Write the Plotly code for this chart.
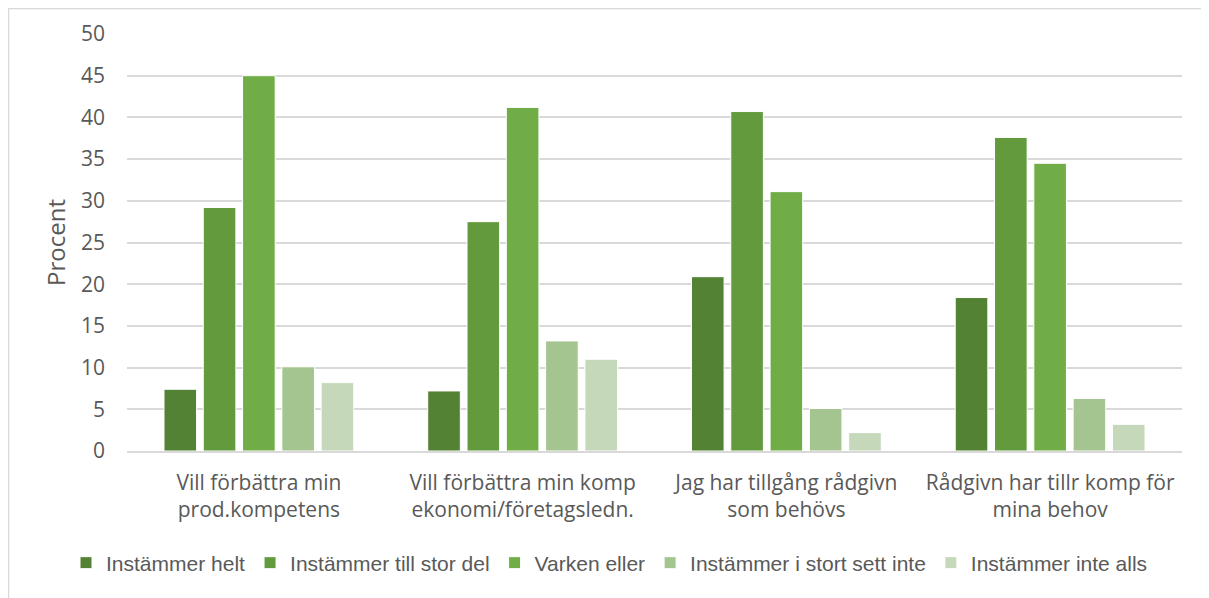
import plotly.graph_objects as go

categories = [
    "Vill förbättra min<br>prod.kompetens",
    "Vill förbättra min komp<br>ekonomi/företagsledn.",
    "Jag har tillgång rådgivn<br>som behövs",
    "Rådgivn har tillr komp för<br>mina behov",
]
series_names = [
    "Instämmer helt",
    "Instämmer till stor del",
    "Varken eller",
    "Instämmer i stort sett inte",
    "Instämmer inte alls",
]
instammer_helt = [7.4, 7.2, 20.9, 18.4]
instammer_stor_del = [29.2, 27.5, 40.7, 37.6]
varken_eller = [45.0, 41.2, 31.1, 34.5]
stort_sett_inte = [10.1, 13.2, 5.1, 6.3]
inte_alls = [8.2, 11.0, 2.2, 3.2]
colors = ["#548235", "#639A3E", "#70AD47", "#A5C590", "#C5D8BA"]
y_ticks = [0, 5, 10, 15, 20, 25, 30, 35, 40, 45, 50]

series_values = [instammer_helt, instammer_stor_del, varken_eller, stort_sett_inte, inte_alls]

# page has an 8px body margin, so the figure itself is slightly smaller
W, H = 1201, 590
ml, mr, mt, mb = 119, 27, 26, 147

fig = go.Figure()
for name, vals, col in zip(series_names, series_values, colors):
    fig.add_trace(go.Bar(
        x=categories, y=vals, name=name,
        marker=dict(color=col, line=dict(color="#FFFFFF", width=1)),
    ))

font_family = "Open Sans, Liberation Sans, Arial, sans-serif"
legend_family = "Liberation Sans, Arial, sans-serif"
text_color = "#595959"

pw = W - ml - mr
ph = H - mt - mb

fig.update_layout(
    width=W, height=H,
    margin=dict(l=ml, r=mr, t=mt, b=mb, pad=0, autoexpand=False),
    paper_bgcolor="#FFFFFF", plot_bgcolor="#FFFFFF",
    barmode="group", bargap=0.255, bargroupgap=0.17,
    font=dict(family=font_family, size=21, color=text_color),
    showlegend=True,
    legend=dict(
        orientation="h", x=(58 - ml) / pw, xanchor="left", y=-0.2686, yanchor="middle",
        font=dict(family=legend_family, size=21, color=text_color), itemwidth=30,
        traceorder="normal",
    ),
    xaxis=dict(
        showgrid=False, showline=True, linecolor="#D9D9D9", linewidth=1.5,
        ticks="", tickfont=dict(size=21, color=text_color), ticklabelstandoff=12,
    ),
    yaxis=dict(
        range=[0, 50], tickvals=y_ticks, showgrid=True, gridcolor="#D9D9D9",
        gridwidth=1.5, zeroline=False, showline=False, ticks="",
        tickfont=dict(size=21, color=text_color), ticklabelstandoff=21,
        title=dict(text="Procent", font=dict(size=24, color=text_color), standoff=8),
    ),
    shapes=[dict(
        type="rect", xref="paper", yref="paper",
        x0=(0.5 - ml) / pw, x1=(W + 10 - ml) / pw,
        y0=(-20 - mb) / ph, y1=(H - 0.5 - mb) / ph,
        line=dict(color="#D9D9D9", width=1.5), fillcolor="rgba(0,0,0,0)", layer="below",
    )],
)

fig.write_html("out.html")
